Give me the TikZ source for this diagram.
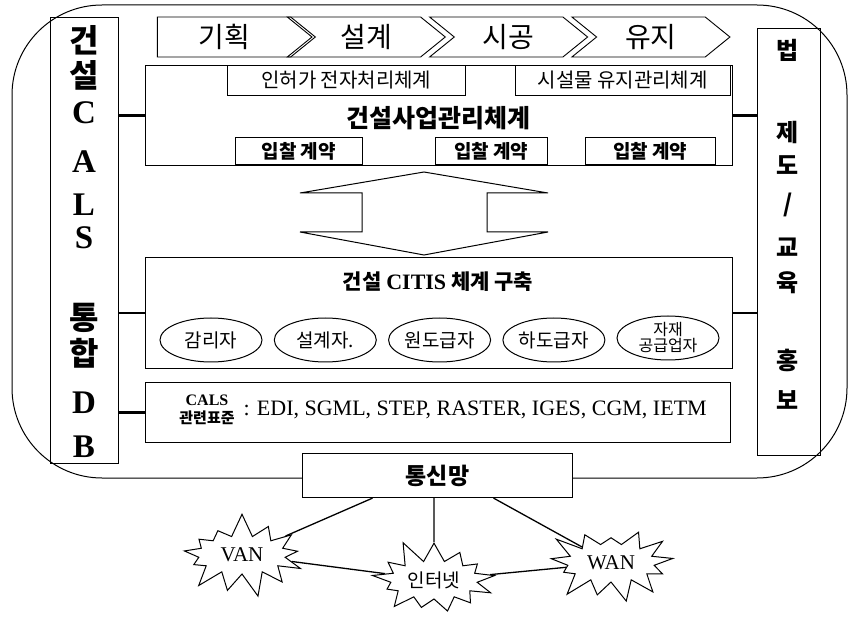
\documentclass[tikz,border=0pt]{standalone}
\usepackage{fontspec}
\setmainfont{Liberation Serif}
\newfontfamily\kr{Noto Sans CJK KR}
\usetikzlibrary{shapes.symbols,shapes.geometric}

\tikzset{
  bigbox/.style={draw, line width=1.1pt, fill=white, inner sep=0pt},
  subbox/.style={draw, line width=0.5pt, inner sep=0pt},
  colbox/.style={draw, line width=1pt, inner sep=0pt},
  link/.style={line width=2.4pt},
  net/.style={line width=1.3pt},
  chev/.style={signal, draw, line width=0.9pt, signal to=east, signal pointer angle=78,
    minimum height=40pt, minimum width=158pt, inner sep=0pt, font=\kr\fontsize{28}{30}\selectfont},
  party/.style={ellipse, draw, line width=1pt, minimum width=102pt, minimum height=44pt,
    inner sep=0pt, font=\kr\fontsize{19}{20}\selectfont},
  burst/.style={starburst, draw, line width=1pt, starburst points=13, starburst point height=24pt,
    random starburst=7, minimum width=135pt, minimum height=86pt, inner sep=0pt, fill=white},
}

\begin{document}
\begin{tikzpicture}[x=1pt, y=-1pt]
  \useasboundingbox (0,0) rectangle (849,620);
  % outer rounded frame
  \draw[line width=1pt, rounded corners=90pt] (12,5) rectangle (847,478);
  % left column: CALS integrated DB
  \node[colbox, anchor=north west, minimum width=68pt, minimum height=446pt] (caldb) at (50,17) {};
  \foreach \ch/\yy [count=\i] in {건/40, 설/75, 통/318, 합/353}
    \node[font=\kr\bfseries\fontsize{32}{32}\selectfont] (dbk\i) at (84,\yy) {\ch};
  \foreach \ch/\yy [count=\i] in {C/113, A/162, L/205, S/238, D/403, B/447}
    \node[font=\bfseries\fontsize{33}{33}\selectfont] (dbl\i) at (84,\yy) {\ch};
  % right column: law / education
  \node[colbox, anchor=north west, minimum width=63pt, minimum height=427pt] (lawbox) at (757,28) {};
  \foreach \ch/\yy [count=\i] in {법/50, 제/133, 도/165, {/}/205, 교/247, 육/283, 홍/360, 보/400}
    \node[font=\kr\bfseries\fontsize{24}{24}\selectfont] (law\i) at (788,\yy) {\ch};
  % process chevrons
  \node[chev, signal from=nowhere] (stage1) at (224,37) {기획};
  \foreach \lbl [count=\i from 1] in {설계, 시공, 유지}
    \node[chev, signal from=west] (stage\i) at (224+142.3*\i,37) {\lbl};
  % construction management box
  \node[bigbox, anchor=north west, minimum width=587pt, minimum height=100pt] (mgmt) at (145,65) {};
  \node[font=\kr\bfseries\fontsize{25}{25}\selectfont] (mgmttitle) at (438,118) {건설사업관리체계};
  \node[subbox, anchor=north west, minimum width=238pt, minimum height=30pt,
    font=\kr\fontsize{20}{20}\selectfont] (permit) at (227,65) {인허가 전자처리체계};
  \node[subbox, anchor=north west, minimum width=215pt, minimum height=30pt,
    font=\kr\fontsize{20}{20}\selectfont] (upkeep) at (515,65) {시설물 유지관리체계};
  \foreach \xx/\ww [count=\i] in {235/127, 435/112, 585/130}
    \node[subbox, anchor=south west, minimum width=\ww pt, minimum height=27pt,
      font=\kr\bfseries\fontsize{19}{19}\selectfont] (bid\i) at (\xx,165) {입찰 계약};
  % hollow double arrow
  \draw[line width=1pt] (424,172) -- (548,193) -- (487,193) -- (487,232) -- (548,232) -- (424,255)
    -- (300,232) -- (362,232) -- (362,193) -- (300,193) -- cycle;
  % CITIS box
  \node[bigbox, anchor=north west, minimum width=587pt, minimum height=111pt] (citis) at (145,257) {};
  \node (citistitle) at (438,282) {\kr\bfseries\fontsize{21}{21}\selectfont 건설 
    {\rmfamily\fontsize{22}{22}\selectfont CITIS} 체계 구축};
  \foreach \lbl [count=\i from 0] in {감리자, 설계자., 원도급자, 하도급자}
    \node[party] (party\i) at (211+114.3*\i,340) {\lbl};
  \node[party, align=center, font=\kr\fontsize{16}{16}\selectfont] (party4) at (668,338) {자재\\공급업자};
  % CALS standards box
  \node[bigbox, anchor=north west, minimum width=585pt, minimum height=60pt] (std) at (145,382) {};
  \node[bigbox, draw=none, align=center, inner sep=0pt] (stdname) at (207,410)
    {{\bfseries\fontsize{16}{18}\selectfont CALS}\\[4pt]{\kr\bfseries\fontsize{15}{16}\selectfont 관련표준}};
  \node[anchor=west, font=\fontsize{22}{22}\selectfont] (stdlist) at (240,410)
    {: EDI, SGML, STEP, RASTER, IGES, CGM, IETM};
  % side links
  \draw[link] (mgmt.west -| caldb.east) -- (mgmt.west);
  \draw[link] (mgmt.east) -- (mgmt.east -| lawbox.west);
  \draw[link] (citis.west -| caldb.east) -- (citis.west);
  \draw[link] (citis.east) -- (citis.east -| lawbox.west);
  \draw[link] (std.west -| caldb.east) -- (std.west);
  % network box and nets
  \node[bigbox, anchor=north west, minimum width=270pt, minimum height=44pt,
    font=\kr\bfseries\fontsize{23}{23}\selectfont] (netbox) at (302,453) {통신망};
  \node[burst, font=\fontsize{21}{21}\selectfont] (van) at (242,555) {VAN};
  \node[burst, random starburst=11, font=\kr\fontsize{19}{19}\selectfont] (inet) at (434,580) {인터넷};
  \node[burst, random starburst=23, font=\fontsize{21}{21}\selectfont] (wan) at (611,563) {WAN};
  \draw[net] ([xshift=-65pt]netbox.south) -- (van);
  \draw[net] (netbox.south -| inet.north) -- (inet);
  \draw[net] ([xshift=56pt]netbox.south) -- (wan);
  \draw[net] (van) -- (inet);
  \draw[net] (inet) -- (wan);
\end{tikzpicture}
\end{document}
